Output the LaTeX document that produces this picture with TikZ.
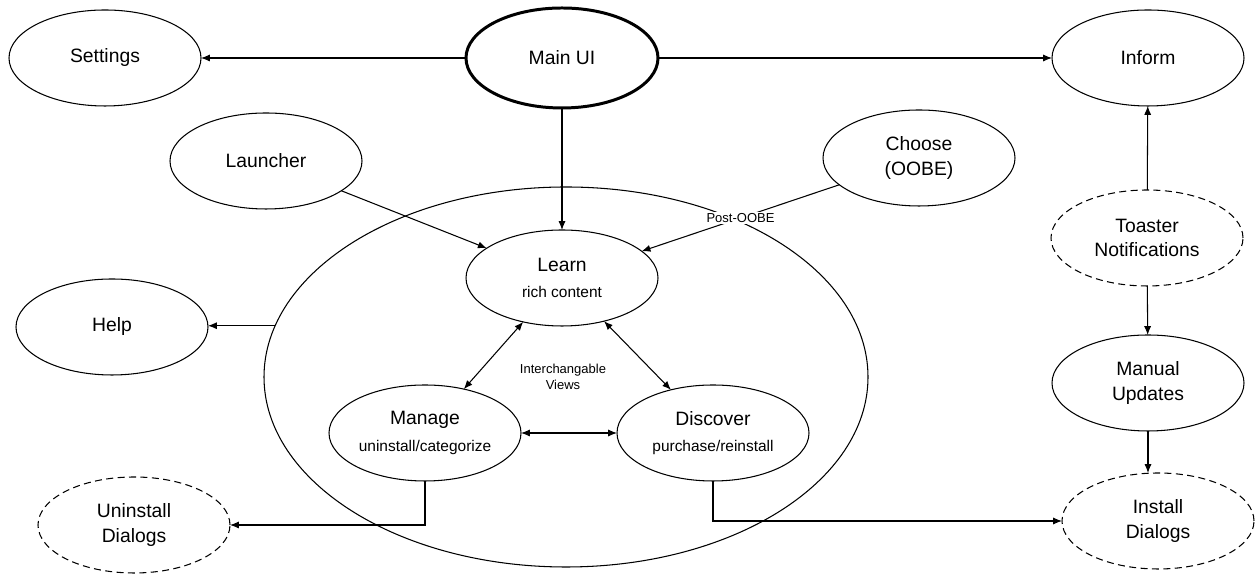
\documentclass[tikz,border=0pt]{standalone}
\usepackage{fontspec}
\setmainfont{Liberation Sans}
\usetikzlibrary{shapes.geometric,arrows.meta}

\newcommand{\subtxt}{\fontsize{8.8}{10.5}\selectfont}
\newcommand{\notetxt}{\fontsize{7.4}{9}\selectfont}

\begin{document}
\begin{tikzpicture}[
	view/.style={draw,ellipse,line width=0.6pt,minimum width=3.84cm,minimum height=1.92cm,
		inner sep=0pt,outer sep=0pt,align=center,font=\fontsize{11}{14}\selectfont},
	mainview/.style={view,line width=1.7pt,minimum height=2cm},
	dialog/.style={view,dash pattern=on 4pt off 2.5pt},
	link/.style={line width=0.6pt},
	>={Latex[length=5pt,width=4pt]}
	]
	%    \draw[step=1cm,gray,very thin] (0,0) grid (25,11);
	\useasboundingbox (0,0) rectangle (25.14,11.5);
	
	\node[view,minimum width=12.08cm,minimum height=7.6cm] (shell) at (11.32,3.96) {};
	
	\node[view] (settings) at (2.10,10.34) {Settings};
	\node[mainview] (main) at (11.24,10.34) {Main UI};
	\node[view] (inform) at (22.96,10.34) {Inform};
	
	\node[view] (launcher) at (5.32,8.28) {Launcher};
	\node[view] (choose) at (18.38,8.34) {Choose\\(OOBE)};
	
	\node[view] (learn) at (11.24,5.94) {Learn\\[1pt]{\subtxt rich content}};
	\node[view] (manage) at (8.50,2.84) {Manage\\[1pt]{\subtxt uninstall/categorize}};
	\node[view] (discover) at (14.26,2.84) {Discover\\[1pt]{\subtxt purchase/reinstall}};
	\node[font=\notetxt,align=center] (views) at (11.26,3.96) {Interchangable\\Views};
	
	\node[view] (help) at (2.24,4.96) {Help};
	\node[dialog] (uninstall) at (2.68,1.00) {Uninstall\\Dialogs};
	
	\node[dialog] (toaster) at (22.94,6.74) {Toaster\\Notifications};
	\node[view] (manual) at (22.96,3.84) {Manual\\Updates};
	\node[dialog] (install) at (23.16,1.08) {Install\\Dialogs};
	
	\draw [->,link] (main) -- (settings);
	\draw [->,link] (main) -- (inform);
	\draw [->,link] (main) -- (learn);
	\draw [->,link] (launcher) -- (learn);
	\draw [->,link] (choose) -- node[fill=white,inner sep=1pt,font=\notetxt] {Post-OOBE} (learn);
	\draw [<->,link] (learn) -- (manage);
	\draw [<->,link] (learn) -- (discover);
	\draw [<->,link] (manage) -- (discover);
	\draw [->,link] (shell.170) -- (shell.170 -| help.east);
	\draw [->,link] (manage.south) |- (uninstall.east);
	\draw [->,link] (discover.south) |- (install.west);
	\draw [->,link] (toaster) -- (inform);
	\draw [->,link] (toaster) -- (manual);
	\draw [->,link] (manual.south) -- (manual.south |- install.north);
	
\end{tikzpicture}
\end{document}
